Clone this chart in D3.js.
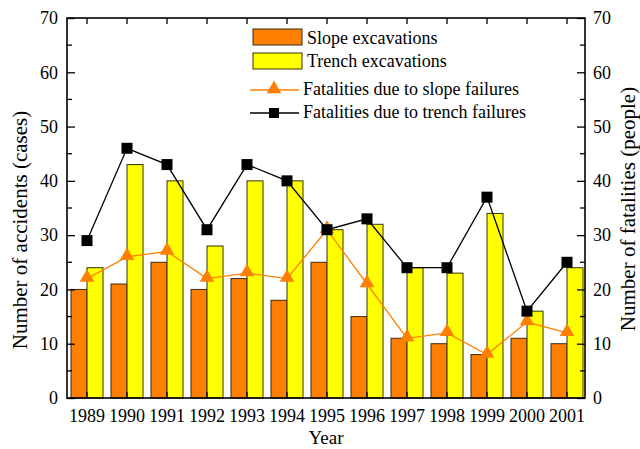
<!DOCTYPE html>
<html lang="en">
<head>
<meta charset="UTF-8">
  <title>Excavation accidents and fatalities</title>
  <script src="https://d3js.org/d3.v7.min.js"></script>
  <style>
    body { margin: 0; background: #fff; }
    svg text { font-family: "Liberation Serif", "Times New Roman", Tinos, "DejaVu Serif", serif; fill: #000; }
  </style>
</head>
<body>
<div id="chart"></div>
<script>
  // data
  const years = ["1989","1990","1991","1992","1993","1994","1995","1996","1997","1998","1999","2000","2001"];
  const slopeAccidents  = [20, 21, 25, 20, 22, 18, 25, 15, 11, 10, 8, 11, 10];
  const trenchAccidents = [24, 43, 40, 28, 40, 40, 31, 32, 24, 23, 34, 16, 24];
  const slopeFatalities  = [22, 26, 27, 22, 23, 22, 31, 21, 11, 12, 8, 14, 12];
  const trenchFatalities = [29, 46, 43, 31, 43, 40, 31, 33, 24, 24, 37, 16, 25];
  const yTicks = [0, 10, 20, 30, 40, 50, 60, 70];

  const W = 640, H = 449;
  const pL = 67, pR = 585, pT = 18, pB = 398;

  const svg = d3.select("#chart").append("svg")
    .attr("width", W).attr("height", H);

  const x = d3.scaleBand()
    .domain(years)
    .range([pL, pL + 520])
    .paddingInner(0.2)
    .paddingOuter(0.1);
  const sub = d3.scaleBand()
    .domain(["slope", "trench"])
    .range([0, x.bandwidth()]);
  const y = d3.scaleLinear().domain([0, 70]).range([pB, pT]);
  const y2 = d3.scaleLinear().domain([0, 70]).range([pB, pT]);
  const cx = d => x(d) + x.bandwidth() / 2;

  // bars
  const groups = svg.append("g").selectAll("g")
    .data(years)
    .join("g")
    .attr("transform", d => `translate(${x(d)},0)`);

  groups.append("rect")
    .attr("x", sub("slope"))
    .attr("y", (d, i) => y(slopeAccidents[i]))
    .attr("width", sub.bandwidth())
    .attr("height", (d, i) => pB - y(slopeAccidents[i]))
    .attr("fill", "#ff8000")
    .attr("stroke", "#3a2a10")
    .attr("stroke-width", 1);

  groups.append("rect")
    .attr("x", sub("trench"))
    .attr("y", (d, i) => y(trenchAccidents[i]))
    .attr("width", sub.bandwidth())
    .attr("height", (d, i) => pB - y(trenchAccidents[i]))
    .attr("fill", "#ffff00")
    .attr("stroke", "#333300")
    .attr("stroke-width", 1);

  // lines
  const line = d3.line().x((d, i) => cx(years[i])).y(d => y2(d));
  svg.append("path")
    .datum(slopeFatalities)
    .attr("d", line)
    .attr("fill", "none")
    .attr("stroke", "#ff8000")
    .attr("stroke-width", 1.3);
  svg.append("path")
    .datum(trenchFatalities)
    .attr("d", line)
    .attr("fill", "none")
    .attr("stroke", "#000")
    .attr("stroke-width", 1.3);

  const tri = d3.symbol().type(d3.symbolTriangle).size(92);
  svg.append("g").selectAll("path")
    .data(slopeFatalities)
    .join("path")
    .attr("d", tri)
    .attr("transform", (d, i) => `translate(${cx(years[i])},${y2(d) - 1})`)
    .attr("fill", "#ff8000");

  svg.append("g").selectAll("rect")
    .data(trenchFatalities)
    .join("rect")
    .attr("x", (d, i) => cx(years[i]) - 5.5)
    .attr("y", d => y2(d) - 5.5)
    .attr("width", 11)
    .attr("height", 11)
    .attr("fill", "#000");

  // axes
  const axL = svg.append("g")
    .attr("transform", `translate(${pL},0)`)
    .call(d3.axisLeft(y).tickValues(yTicks).tickSizeInner(-8).tickSizeOuter(0).tickPadding(9));
  axL.append("g").selectAll("line")
    .data(d3.range(5, 70, 10))
    .join("line")
    .attr("x1", 0).attr("x2", 5)
    .attr("y1", d => y(d)).attr("y2", d => y(d))
    .attr("stroke", "#000");

  const axR = svg.append("g")
    .attr("transform", `translate(${pR},0)`)
    .call(d3.axisRight(y2).tickValues(yTicks).tickSizeInner(-8).tickSizeOuter(0).tickPadding(8));
  axR.append("g").selectAll("line")
    .data(d3.range(5, 70, 10))
    .join("line")
    .attr("x1", 0).attr("x2", -5)
    .attr("y1", d => y2(d)).attr("y2", d => y2(d))
    .attr("stroke", "#000");

  const axB = svg.append("g")
    .attr("transform", `translate(0,${pB})`)
    .call(d3.axisBottom(x).tickSizeInner(-6).tickSizeOuter(0).tickPadding(11));
  const axT = svg.append("g")
    .attr("transform", `translate(0,${pT})`)
    .call(d3.axisTop(x).tickSizeInner(-6).tickSizeOuter(0).tickFormat(""));

  [axL, axR, axB, axT].forEach(a => {
    a.selectAll(".domain").remove();
    a.attr("font-family", null);
    a.selectAll("text").attr("font-size", 18);
    a.selectAll("line").attr("stroke-width", 1.3);
  });

  // frame
  svg.append("rect")
    .attr("x", pL).attr("y", pT)
    .attr("width", pR - pL).attr("height", pB - pT)
    .attr("fill", "none").attr("stroke", "#000").attr("stroke-width", 1.6);

  // axis titles
  svg.append("text")
    .attr("transform", "translate(27,230) rotate(-90)")
    .attr("text-anchor", "middle")
    .attr("font-size", 21)
    .text("Number of accidents (cases)");
  svg.append("text")
    .attr("transform", "translate(635,209) rotate(-90)")
    .attr("text-anchor", "middle")
    .attr("font-size", 21)
    .text("Number of fatalities (people)");
  svg.append("text")
    .attr("x", 326).attr("y", 444)
    .attr("text-anchor", "middle")
    .attr("font-size", 19)
    .text("Year");

  // legend
  const leg = svg.append("g").attr("font-size", 18);
  leg.append("rect").attr("x", 253).attr("y", 29).attr("width", 49).attr("height", 16)
    .attr("fill", "#ff8000").attr("stroke", "#3a2a10");
  leg.append("text").attr("x", 307).attr("y", 44).text("Slope excavations");
  leg.append("rect").attr("x", 253).attr("y", 53).attr("width", 49).attr("height", 16)
    .attr("fill", "#ffff00").attr("stroke", "#333300");
  leg.append("text").attr("x", 307).attr("y", 67).text("Trench excavations");

  leg.append("line").attr("x1", 250).attr("x2", 299).attr("y1", 90).attr("y2", 90)
    .attr("stroke", "#ff8000").attr("stroke-width", 1.3);
  leg.append("path").attr("d", tri).attr("transform", "translate(274,89)").attr("fill", "#ff8000");
  leg.append("text").attr("x", 303).attr("y", 95).text("Fatalities due to slope failures");
  leg.append("line").attr("x1", 250).attr("x2", 299).attr("y1", 113).attr("y2", 113)
    .attr("stroke", "#000").attr("stroke-width", 1.3);
  leg.append("rect").attr("x", 269).attr("y", 108).attr("width", 10).attr("height", 10).attr("fill", "#000");
  leg.append("text").attr("x", 303).attr("y", 118).text("Fatalities due to trench failures");
</script>
</body>
</html>
